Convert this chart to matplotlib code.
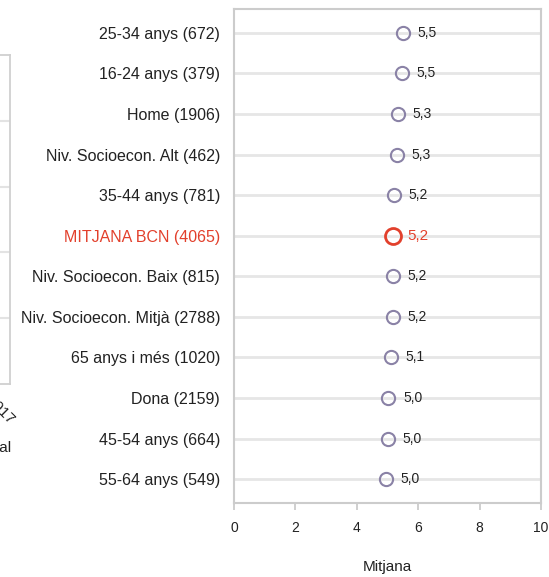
import matplotlib
matplotlib.use("Agg")
import matplotlib.pyplot as plt

plt.rcParams['font.family'] = ['Liberation Sans', 'DejaVu Sans']

categories = [
    "25-34 anys (672)", "16-24 anys (379)", "Home (1906)",
    "Niv. Socioecon. Alt (462)", "35-44 anys (781)", "MITJANA BCN (4065)",
    "Niv. Socioecon. Baix (815)", "Niv. Socioecon. Mitjà (2788)",
    "65 anys i més (1020)", "Dona (2159)", "45-54 anys (664)", "55-64 anys (549)",
]
values = [5.49, 5.47, 5.35, 5.30, 5.21, 5.19, 5.18, 5.18, 5.12, 5.03, 5.01, 4.96]
value_labels = ["5,5", "5,5", "5,3", "5,3", "5,2", "5,2", "5,2", "5,2", "5,1", "5,0", "5,0", "5,0"]
highlight = "MITJANA BCN (4065)"
xticks = [0, 2, 4, 6, 8, 10]
xlabel = "Mitjana"

W, H = 549, 577
fig = plt.figure(figsize=(W / 100, H / 100), dpi=100)

def fx(px):
    return px / W

def fy(py):
    return 1 - py / H

# Partial neighbouring chart at the left edge
axl = fig.add_axes([fx(-200), fy(384), fx(209.5), fy(55) - fy(384)])
axl.set_xlim(0, 1)
axl.set_ylim(0, 5)
for y in [1, 2, 3, 4]:
    axl.axhline(y, color="#e3e3e3", lw=1.5)
for s in axl.spines.values():
    s.set_color("#d0d0d0")
    s.set_linewidth(1.3)
axl.set_xticks([])
axl.set_yticks([])
fig.text(fx(12), fy(422), "2017", rotation=-45, rotation_mode="anchor",
         ha="right", va="center", fontsize=11, color="#222222")
fig.text(fx(12), fy(448), "Total", ha="right", va="center", fontsize=11, color="#222222")

# Main chart
ax = fig.add_axes([fx(234), fy(503), fx(541) - fx(234), fy(9) - fy(503)])
n = len(categories)
ypos = list(range(n))
ax.set_xlim(0, 10)
ax.set_ylim(n - 1 + 0.59, -0.59)

for y in ypos:
    ax.axhline(y, color="#e6e6e6", lw=2, zorder=1)

grey_purple = "#8a82a6"
red = "#e2402c"
for y, v, lab, cat in zip(ypos, values, value_labels, categories):
    if cat == highlight:
        ax.plot(v, y, "o", ms=11.5, mfc="none", mec=red, mew=2.0, zorder=3)
        ax.annotate(lab, (v, y), xytext=(10, 0), textcoords="offset points",
                    ha="left", va="center", fontsize=11, color=red, zorder=4)
    else:
        ax.plot(v, y, "o", ms=9.5, mfc="none", mec=grey_purple, mew=1.5, zorder=3)
        ax.annotate(lab, (v, y), xytext=(10.5, 0), textcoords="offset points",
                    ha="left", va="center", fontsize=10, color="#222222", zorder=4)

ax.set_yticks(ypos)
ax.set_yticklabels(categories, fontsize=11.5)
for t, cat in zip(ax.get_yticklabels(), categories):
    t.set_color(red if cat == highlight else "#222222")
ax.tick_params(axis="y", length=0, pad=10)

ax.set_xticks(xticks)
ax.set_xticklabels([str(x) for x in xticks], fontsize=10, color="#222222")
ax.tick_params(axis="x", length=5, width=1.3, color="#cccccc", pad=8)

for s in ax.spines.values():
    s.set_color("#cccccc")
    s.set_linewidth(1.5)

ax.set_xlabel(xlabel, fontsize=11, color="#222222", labelpad=18)

fig.savefig("out.png", dpi=100)
